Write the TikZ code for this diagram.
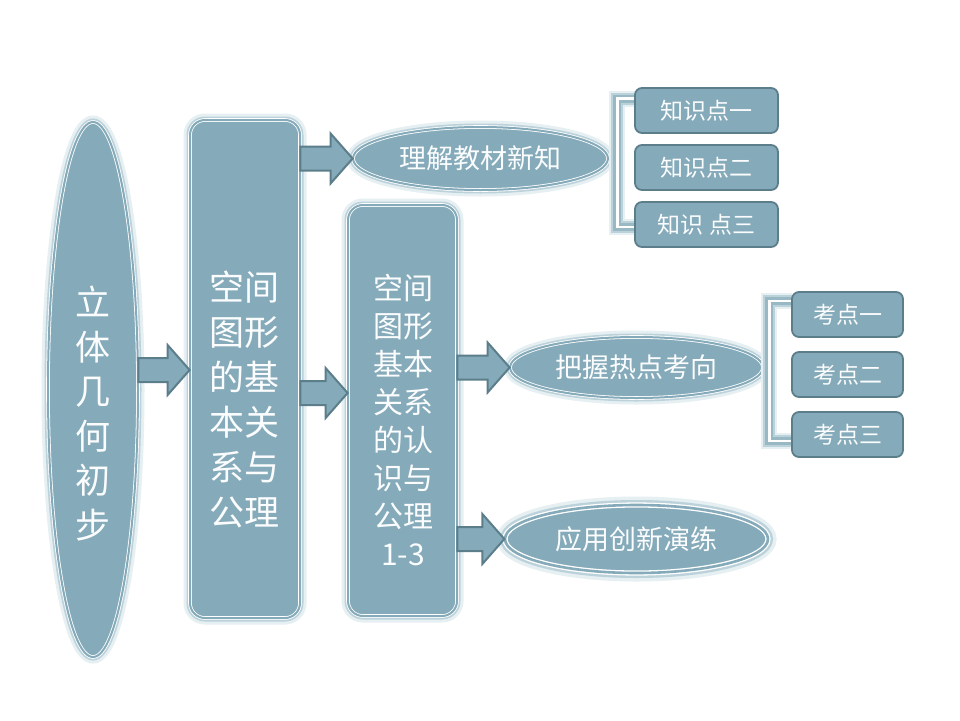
\documentclass[tikz,border=0pt]{standalone}
\usepackage{fontspec}
\newfontfamily\cjk{Noto Sans CJK SC}
\usetikzlibrary{shapes.geometric,calc}
\definecolor{basec}{HTML}{85AAB9}
\definecolor{darkc}{HTML}{5C7E8B}
\definecolor{haloA}{HTML}{E6EFF2}
\definecolor{haloB}{HTML}{BCD2DA}
\definecolor{brkc}{HTML}{98B8C4}
\definecolor{txt}{HTML}{FAFCFD}
\newcommand\blkarrow[2]{%
  \draw[blk] let \p1=#1, \p2=#2 in
    (\x1,\y1+12pt) -- (\x2-22pt,\y1+12pt) -- (\x2-22pt,\y1+25pt) -- (\x2,\y1)
    -- (\x2-22pt,\y1-25pt) -- (\x2-22pt,\y1-12pt) -- (\x1,\y1-12pt) -- cycle;}
\begin{document}
\begin{tikzpicture}[x=1pt,y=-1pt,
  halo/.style={preaction={draw=haloA,line width=13pt},preaction={draw=haloB,line width=7pt}},
  body/.style={halo,fill=basec,draw=white,double=basec,double distance=2pt,line width=0.8pt,inner sep=0pt},
  tallell/.style={body,ellipse,minimum width=90,minimum height=535},
  bigbox/.style={body,rectangle,rounded corners=15pt},
  midell/.style={body,ellipse,text=txt,font=\cjk\fontsize{27}{30}\selectfont},
  boldell/.style={midell,preaction={draw=haloA,line width=17pt},preaction={draw=haloB,line width=10pt},double distance=2.6pt,line width=1.3pt},
  vtext/.style={text=txt,align=center,inner sep=0pt},
  smallbox/.style={draw=darkc,fill=basec,line width=1.8pt,rounded corners=7pt,minimum height=45,text=txt,font=\cjk\fontsize{23}{26}\selectfont},
  blk/.style={fill=basec,draw=darkc,line width=2pt,line join=miter},
  brk/.style={preaction={draw=haloA,line width=16pt},preaction={draw=haloB,line width=12pt},draw=brkc,line width=8pt,postaction={draw=white,line width=2.5pt}}
]
\path[fill=white] (0,0) rectangle (960,720);
\useasboundingbox (0,0) rectangle (960,720);

% main shapes
\node[tallell] (E0) at (93,389.5) {};
\node[bigbox,minimum width=110,minimum height=498] (B1) at (245,369) {};
\node[bigbox,minimum width=109,minimum height=411] (B2) at (402.5,410.5) {};
\node[midell,minimum width=255,minimum height=63] (L1) at (480.5,158.5) {理解教材新知};
\node[midell,minimum width=253,minimum height=61] (L2) at (636.5,367.5) {把握热点考向};
\node[boldell,minimum width=263,minimum height=68] (L3) at (636.5,539) {应用创新演练};

% texts of the tall shapes
\node[vtext,font=\cjk\fontsize{35}{44.6}\selectfont] (T0) at (93,413.5) {立\\体\\几\\何\\初\\步};
\node[vtext,font=\cjk\fontsize{35}{45}\selectfont] (T1) at (244.5,399.5) {空间\\图形\\的基\\本关\\系与\\公理};
\node[vtext,font=\cjk\fontsize{30}{38}\selectfont] (T2) at (403,420) {空间\\图形\\基本\\关系\\的认\\识与\\公理\\1-3};

% block arrows
\blkarrow{($(E0.east)+(0,-19.5)$)}{(B1.west)}
\blkarrow{(B1.east |- L1.west)}{(L1.west)}
\blkarrow{($(B1.east)+(0,24)$)}{(B2.west)}
\blkarrow{(B2.east |- L2.west)}{(L2.west)}
\blkarrow{(B2.east |- L3.west)}{(L3.west)}

% brackets and small boxes
\coordinate (K1) at (706.5,110.5);
\coordinate (P1) at (847.5,314.5);
\path[brk] ($(K1)+(-71.5,-12)$) -| ($(L1.east)+(9,0)$) |- ($(K1)+(-71.5,116.5)$);
\path[brk] ($(P1)+(-55.5,-13.5)$) -| ($(L2.east)+(6,0)$) |- ($(P1)+(-55.5,126.5)$);
\node[smallbox,minimum width=143] (k1) at (706.5,110.5) {知识点一};
\node[smallbox,minimum width=143] (k2) at (706.5,167.5) {知识点二};
\node[smallbox,minimum width=143] (k3) at (706.5,224.5) {知识 点三};
\node[smallbox,minimum width=111] (p1) at (847.5,314.5) {考点一};
\node[smallbox,minimum width=111] (p2) at (847.5,374.5) {考点二};
\node[smallbox,minimum width=111] (p3) at (847.5,434.5) {考点三};
\end{tikzpicture}
\end{document}
